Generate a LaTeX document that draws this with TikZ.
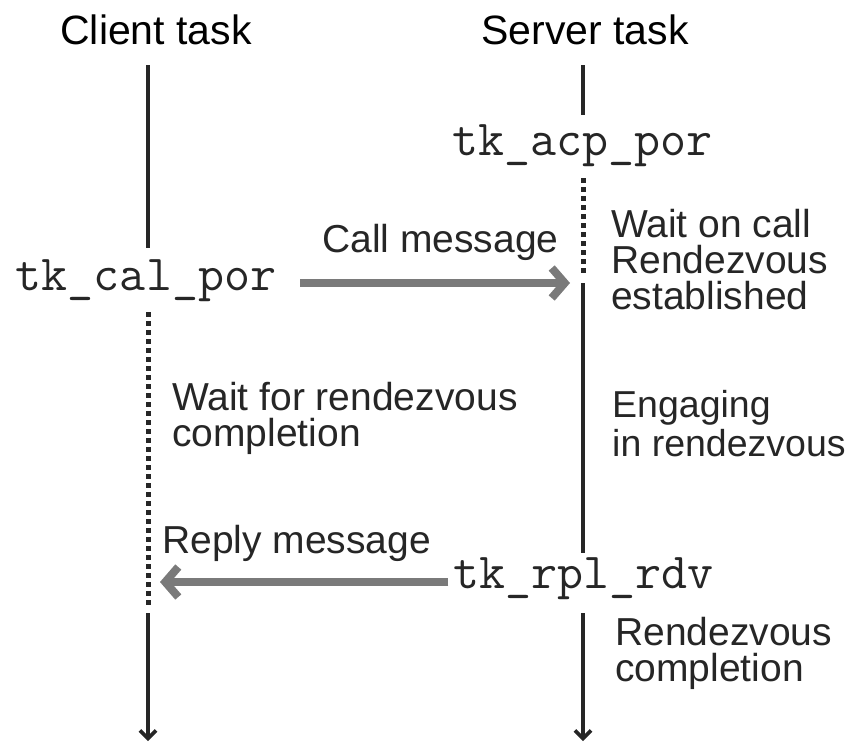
\documentclass[tikz,border=0pt]{standalone}
\usepackage{fontspec}
\setmainfont{Liberation Sans}
\usetikzlibrary{arrows.meta}
\definecolor{ink}{HTML}{262626}
\definecolor{msggray}{HTML}{7A7A7A}

\begin{document}
\begin{tikzpicture}[x=1pt, y=-1pt,
  tasktitle/.style={font=\fontsize{41}{41}\selectfont, text=black, inner sep=0pt, anchor=base},
  syscall/.style={font=\ttfamily\fontsize{50.5}{50.5}\selectfont, text=ink, inner sep=0pt, anchor=base},
  note/.style={font=\fontsize{39}{36}\selectfont, text=ink, inner sep=0pt, anchor=north west, align=left},
  label/.style={font=\fontsize{39}{36}\selectfont, text=ink, inner sep=0pt, anchor=base west},
  life/.style={line width=3.6pt, draw=ink},
  waiting/.style={line width=5pt, draw=ink, dash pattern=on 5pt off 4pt},
  lifeend/.style={life, -{Straight Barb[length=8pt, width=16pt]}},
  msg/.style={line width=8pt, draw=msggray, -{Straight Barb[length=13pt, width=30pt]}}]

  \useasboundingbox (0,0) rectangle (853,742);

  % task headings
  \node[tasktitle] (client) at (156,44) {Client task};
  \node[tasktitle] (server) at (585,44) {Server task};

  % system calls
  \node[syscall] (cal) at (146,290) {tk\_cal\_por};
  \node[syscall] (acp) at (582.5,155) {tk\_acp\_por};
  \node[syscall] (rpl) at (583.5,588) {tk\_rpl\_rdv};

  % client lifeline
  \coordinate (c0) at (148,65);
  \coordinate (c1) at (148,248);
  \coordinate (c2) at (148,312);
  \coordinate (crep) at (148,582);
  \coordinate (c3) at (148,606);
  \coordinate (c4) at (148,613);
  \coordinate (c5) at (148,741);
  \draw[life] (c0) -- (c1);
  \draw[waiting] (c2) -- (c3);
  \draw[lifeend] (c4) -- (c5);

  % server lifeline
  \coordinate (s0) at (583,65);
  \coordinate (s1) at (583,115);
  \coordinate (s2) at (583,178);
  \coordinate (s3) at (583,274);
  \coordinate (s4) at (583,283);
  \coordinate (s5) at (583,553);
  \coordinate (s6) at (583,613);
  \coordinate (s7) at (583,741);
  \draw[life] (s0) -- (s1);
  \draw[waiting] (s2) -- (s3);
  \draw[life] (s4) -- (s5);
  \draw[lifeend] (s6) -- (s7);

  % messages
  \draw[msg, shorten <=24pt, shorten >=13pt] (cal.east |- s4) -- (s4);
  \draw[msg, shorten <=5pt, shorten >=12pt] (rpl.west |- crep) -- (crep);
  \node[label] (callmsg) at (322,252) {Call message};
  \node[label] (replymsg) at (162,553) {Reply message};

  % state notes
  \node[note] (waitcall) at (611,209) {Wait on call\\Rendezvous\\established};
  \node[note] (waitrdv) at (172,382) {Wait for rendezvous\\completion};
  \node[note, font=\fontsize{37.5}{39}\selectfont] (engage) at (612,390) {Engaging\\in rendezvous};
  \node[note] (rdvdone) at (615,617) {Rendezvous\\completion};
\end{tikzpicture}
\end{document}
